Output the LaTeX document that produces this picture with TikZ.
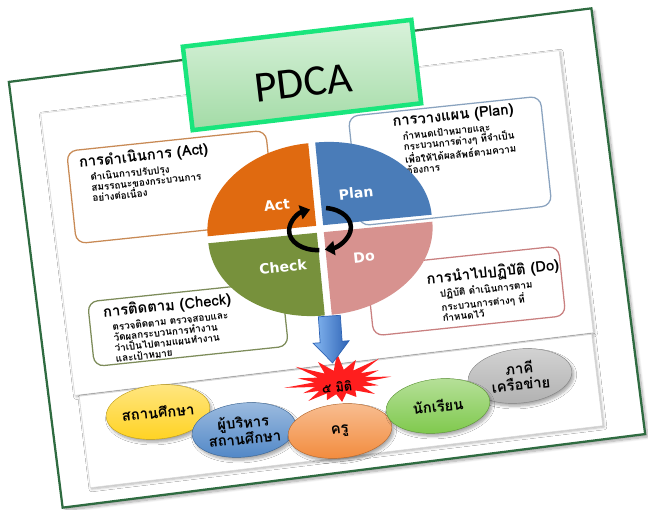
\documentclass[tikz,border=0pt]{standalone}
\usepackage{fontspec}
\setmainfont{Carlito}
\newfontfamily\thaifont[Script=Thai]{Loma}
\newfontfamily\piefont{DejaVu Sans}
\usetikzlibrary{positioning,shapes.geometric,arrows.meta,shadows.blur}

\definecolor{framegreen}{HTML}{2E6B40}
\definecolor{titlegreen}{HTML}{19E57C}
\definecolor{titletop}{HTML}{D9F2DB}
\definecolor{titlebottom}{HTML}{A3DBA6}
\definecolor{actorange}{HTML}{E06A10}
\definecolor{planblue}{HTML}{4A7CB8}
\definecolor{dopink}{HTML}{D7928F}
\definecolor{checkgreen}{HTML}{77913C}
\definecolor{actline}{HTML}{C88A55}
\definecolor{planline}{HTML}{8AA3BF}
\definecolor{doline}{HTML}{C98080}
\definecolor{checkline}{HTML}{7D8C5A}
\definecolor{starred}{HTML}{FF1E1E}
\definecolor{arrowlight}{HTML}{86B8F2}
\definecolor{arrowdark}{HTML}{2E63B5}
\definecolor{schoolyellow}{HTML}{FFD21F}
\definecolor{adminblue}{HTML}{4F86C6}
\definecolor{teacherorange}{HTML}{F28A3B}
\definecolor{studentgreen}{HTML}{7DC84A}
\definecolor{partnergray}{HTML}{B0B0B0}

\begin{document}
\begin{tikzpicture}[
		x=0.025cm, y=0.025cm,
		tilt/.style={rotate=6},
		panel/.style={draw=gray!30, fill=white, inner sep=0pt, rotate=6.9,
			blur shadow={shadow xshift=1pt, shadow yshift=-1pt, shadow blur steps=5, shadow opacity=30}},
		infobox/.style={draw=#1, line width=0.9pt, rounded corners=7pt, fill=white, inner sep=0pt, tilt},
		boxtitle/.style={font=\thaifont\bfseries\fontsize{10.5}{11}\selectfont, inner sep=0pt, tilt},
		boxbody/.style={font=\thaifont\bfseries\fontsize{7}{7.5}\selectfont, align=left, inner sep=0pt, tilt},
		pielabel/.style={font=\piefont\bfseries\fontsize{10}{12}\selectfont, text=white, tilt},
		cyclearrow/.style={line width=3.2pt, -{Triangle[length=7pt,width=10pt]}},
		member/.style={ellipse, draw=#1!75!black, line width=0.3pt, top color=#1!55, bottom color=#1,
			minimum width=2.6cm, minimum height=1.35cm, inner sep=0pt, align=center,
			font=\thaifont\bfseries\fontsize{10.5}{11.5}\selectfont, tilt,
			blur shadow={shadow xshift=1.5pt, shadow yshift=-2pt, shadow blur steps=6, shadow opacity=35}},
		]
		\useasboundingbox (0,0) rectangle (648,510);

		% frame and the two pasted panels
		\node[draw=framegreen, line width=1.6pt, fill=white, minimum width=14.675cm, minimum height=10.725cm, rotate=7.2,
			blur shadow={shadow xshift=2pt, shadow yshift=-2pt, shadow blur steps=8, shadow opacity=35}] (frame) at (327,252) {};
		\node[panel, minimum width=13.05cm, minimum height=7.1cm] (upper) at (317,287) {};
		\node[panel, minimum width=12.9cm, minimum height=2.3cm] (lower) at (341,99) {};

		\node[draw=titlegreen, line width=3.2pt, top color=titletop, bottom color=titlebottom,
			minimum width=5.75cm, minimum height=2.1cm, rotate=6.7, text height=1.1cm, text depth=0pt,
			font=\fontsize{31}{31}\selectfont] (title) at (302,435) {PDCA};

		% the four boxes
		\node[infobox=actline, minimum width=5cm, minimum height=2.325cm] (actbox) at (171,323) {};
		\node[boxtitle, below right=0.12cm and 0.3cm of actbox.north west] (acttitle) {การดำเนินการ (Act)};
		\node[boxbody, below right=0.04cm and 0.25cm of acttitle.south west] (actbody) {ดำเนินการปรับปรุง\\สมรรถนะของกระบวนการ\\อย่างต่อเนื่อง};

		\node[infobox=planline, minimum width=4.825cm, minimum height=2.75cm] (planbox) at (450,349) {};
		\node[boxtitle, below right=0.0cm and 1.1cm of planbox.north west] (plantitle) {การวางแผน (Plan)};
		\node[boxbody, below right=0.04cm and 0.22cm of plantitle.south west] (planbody) {กำหนดเป้าหมายและ\\กระบวนการต่างๆ ที่จำเป็น\\เพื่อให้ได้ผลลัพธ์ตามความ\\ต้องการ};

		\node[infobox=doline, minimum width=4.825cm, minimum height=1.75cm] (dobox) at (466,219) {};
		\node[boxtitle, below right=0.16cm and 1.5cm of dobox.north west] (dotitle) {การนำไปปฏิบัติ (Do)};
		\node[boxbody, below right=0.04cm and 0.3cm of dotitle.south west] (dobody) {ปฏิบัติ ดำเนินการตาม\\กระบวนการต่างๆ ที่\\กำหนดไว้};

		\node[infobox=checkline, minimum width=4.875cm, minimum height=1.625cm] (checkbox) at (188,186) {};
		\node[boxtitle, below right=0.1cm and 0.38cm of checkbox.north west] (checktitle) {การติดตาม (Check)};
		\node[boxbody, below right=0.04cm and 0.2cm of checktitle.south west] (checkbody) {ตรวจติดตาม ตรวจสอบและ\\วัดผลกระบวนการทำงาน\\ว่าเป็นไปตามแผนทำงาน\\และเป้าหมาย};

		% pie
		\begin{scope}[shift={(320,281)}, rotate=5.5]
			\fill[planblue] (3.5,3.5) -- ++(0:109 and 83) arc[start angle=0, end angle=90, x radius=109, y radius=83] -- cycle;
			\fill[actorange] (-3.5,3.5) -- ++(180:109 and 83) arc[start angle=180, end angle=90, x radius=109, y radius=83] -- cycle;
			\fill[checkgreen] (-3.5,-3.5) -- ++(180:109 and 83) arc[start angle=180, end angle=270, x radius=109, y radius=83] -- cycle;
			\fill[dopink] (3.5,-3.5) -- ++(0:109 and 83) arc[start angle=0, end angle=-90, x radius=109, y radius=83] -- cycle;
			\draw[cyclearrow] (265:31 and 21) arc[start angle=265, end angle=105, x radius=31, y radius=21];
			\draw[cyclearrow] (75:31 and 21) arc[start angle=75, end angle=-85, x radius=31, y radius=21];
		\end{scope}
		\node[pielabel] (actlabel) at (277,305) {Act};
		\node[pielabel] (planlabel) at (356,317) {Plan};
		\node[pielabel] (dolabel) at (364,253) {Do};
		\node[pielabel] (checklabel) at (283,243) {Check};

		% star and arrow
		\begin{scope}[shift={(340,128)}, rotate=6, xscale=2.15]
			\fill[starred] (-11.25:12) foreach \a/\r in {0/24,22.5/20,45/27,67.5/22,90/29,112.5/24,135/28,157.5/21,180/26,202.5/19,225/22,247.5/18,270/20,292.5/18,315/22,337.5/19} { -- (\a:\r) -- ({\a+11.25}:12) } -- cycle;
		\end{scope}

		\begin{scope}[shift={(331,170)}, rotate=4]
			\draw[arrowdark, line width=0.5pt, left color=arrowlight, right color=arrowdark]
				(-11,24) -- (11,24) -- (11,-2) -- (18,-2) -- (0,-23) -- (-18,-2) -- (-11,-2) -- cycle;
		\end{scope}

		% groups
		\node[member=partnergray] (partner) at (520,134) {ภาคี\\เครือข่าย};
		\node[member=schoolyellow] (school) at (158,98) {สถานศึกษา};
		\node[member=adminblue] (admin) at (244,80) {ผู้บริหาร\\สถานศึกษา};
		\node[member=teacherorange] (teacher) at (340,79) {ครู};
		\node[member=studentgreen] (student) at (438,104) {นักเรียน};

		\node[font=\thaifont\bfseries\fontsize{9}{10}\selectfont, tilt, inner sep=0pt] (dimlabel) at (337,123) {๕ มิติ};
	\end{tikzpicture}
\end{document}
